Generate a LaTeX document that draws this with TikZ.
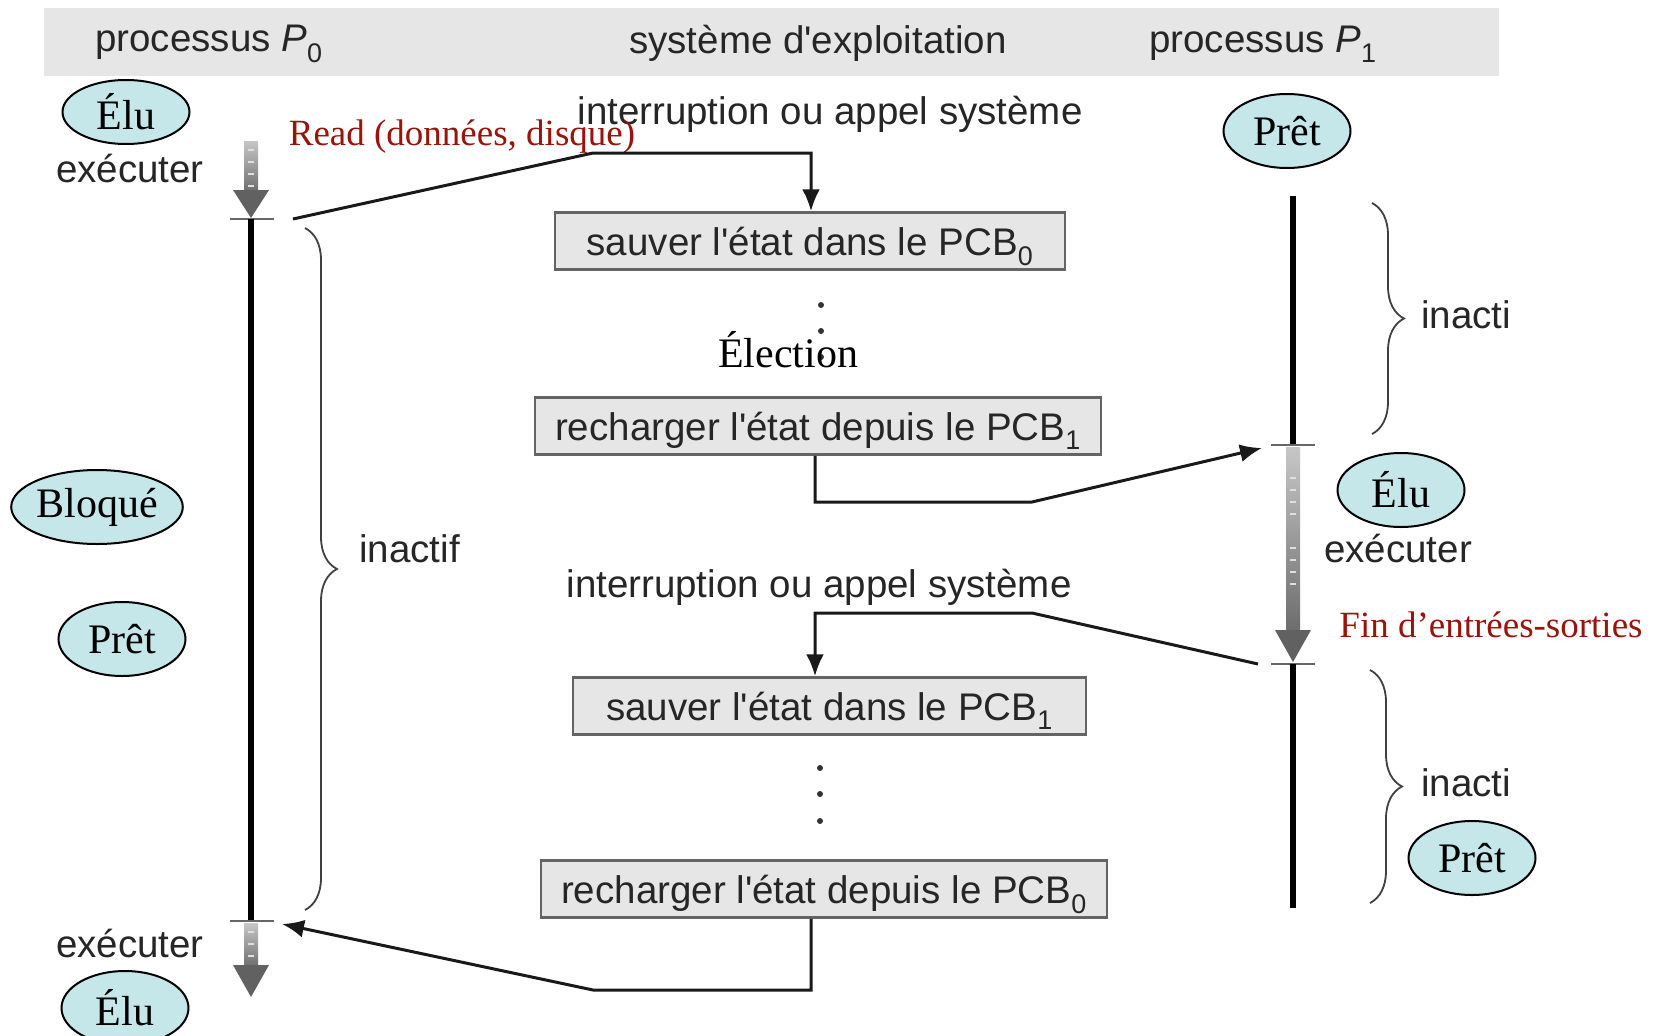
\documentclass[tikz,border=0pt]{standalone}
\usepackage{fontspec}
\setmainfont{Liberation Serif}
\setsansfont{Liberation Sans}[Ligatures=TeXOff]
\usetikzlibrary{arrows.meta,decorations.pathreplacing,shapes.geometric}
\definecolor{ellfill}{RGB}{197,231,233}
\definecolor{redlab}{RGB}{153,20,10}
\definecolor{boxfill}{RGB}{230,230,230}
\definecolor{boxdraw}{RGB}{100,100,100}
\definecolor{hdr}{RGB}{230,230,230}
\begin{document}
\begin{tikzpicture}[x=1pt,y=-1pt,
  state/.style={ellipse, draw=black, line width=2pt, fill=ellfill, inner sep=0, minimum width=127, minimum height=72, font=\fontsize{42}{48}\selectfont},
  osbox/.style={rectangle, draw=boxdraw, line width=2.5pt, fill=boxfill, inner sep=0, minimum height=57, text height=28, text depth=0, font=\sffamily\fontsize{38.5}{44}\selectfont, text=black!85},
  lab/.style={font=\sffamily\fontsize{38.5}{44}\selectfont, text=black!85, inner sep=0},
  redl/.style={font=\fontsize{37}{42}\selectfont, text=redlab, inner sep=0},
  conn/.style={line width=3pt, black!90},
  arr/.style={conn, -{Latex[length=22pt,width=18pt]}},
  tl/.style={line width=6pt, black},
  tickline/.style={line width=2pt, black!60},
  br/.style={decorate, decoration={brace, amplitude=32pt}, line width=1.8pt, black!75},
  shaftshade/.style={top color=black!22, bottom color=black!58},
  headfill/.style={fill=black!62},
  dashw/.style={line width=1.3pt, white!75!gray},
]
\useasboundingbox (0,0) rectangle (1660,1036);
\begin{scope}
\clip (0,0) rectangle (1660,1036);
% header
\fill[hdr] (44,8) rectangle (1499,76);
\node[lab] (h0) at (209,44) {processus \textit{P}\textsubscript{0}};
\node[lab] (hs) at (818,43) {système d'exploitation};
\node[lab] (h1) at (1263,44) {processus \textit{P}\textsubscript{1}};

% P0 timeline
\shade[shaftshade] (244,141) rectangle (258,193);
\fill[headfill] (233,190) -- (269,190) -- (251,218) -- cycle;
\foreach \yy in {150,162,174,186} \draw[dashw] (248,\yy) -- (254,\yy);
\draw[tickline] (230,219) -- (274,219);
\draw[tl] (251,219) -- (251,921);
\draw[tickline] (230,921) -- (274,921);
\shade[shaftshade] (244,923) rectangle (258,968);
\fill[headfill] (233,965) -- (269,965) -- (251,997) -- cycle;
\foreach \yy in {932,944,956} \draw[dashw] (248,\yy) -- (254,\yy);
\coordinate (t0a) at (293,219);
\coordinate (t0b) at (282,924);

% P1 timeline
\draw[tl] (1293,196) -- (1293,445);
\draw[tickline] (1271,445) -- (1315,445);
\shade[shaftshade] (1286,447) rectangle (1300,634);
\fill[headfill] (1275,630) -- (1311,630) -- (1293,662) -- cycle;
\foreach \yy in {478,490,502,514,548,560,572,584} \draw[dashw] (1290,\yy) -- (1296,\yy);
\draw[tickline] (1271,664) -- (1315,664);
\draw[tl] (1293,664) -- (1293,908);
\coordinate (t1a) at (1262,448);
\coordinate (t1b) at (1258,664);

% braces
\draw[br] (305,228) -- (305,910);
\draw[br] (1372,203) -- (1372,434);
\draw[br] (1370,670) -- (1370,903);
\node[lab, anchor=west] (in0) at (359,549) {inactif};
\node[lab, anchor=west] (in1) at (1421,315) {inacti};
\node[lab, anchor=west] (in2) at (1421,783) {inacti};

% OS boxes
\node[osbox, minimum width=510] (b1) at (810,241) {sauver l'état dans le PCB\textsubscript{0}};
\node[osbox, minimum width=566] (b2) at (818,426) {recharger l'état depuis le PCB\textsubscript{1}};
\node[osbox, minimum width=513] (b3) at (829.5,706) {sauver l'état dans le PCB\textsubscript{1}};
\node[osbox, minimum width=566] (b4) at (824,889) {recharger l'état depuis le PCB\textsubscript{0}};

% dots
\foreach \yy in {305,331,357} \fill[black!80] (821,\yy) circle (3);
\foreach \yy in {768,794,821} \fill[black!80] (820,\yy) circle (3);
\node[font=\fontsize{42}{48}\selectfont, inner sep=0] (el) at (788,350) {Élection};

% labels
\node[lab] (ir1) at (830,114) {interruption ou appel système};
\node[lab] (ir2) at (819,587) {interruption ou appel système};
\node[lab] (ex1) at (130,169) {exécuter};
\node[lab] (ex2) at (1398,549) {exécuter};
\node[lab] (ex3) at (130,944) {exécuter};
\node[redl] (rd) at (462,137) {Read (données, disque)};
\node[redl] (fin) at (1491,625) {Fin d’entrées-sorties};

% connectors
\coordinate (k1) at (593,153);
\coordinate (k2) at (811,153);
\draw[arr] (t0a) -- (k1) -- (k2) -- (b1.north -| k2);
\coordinate (k3) at (815,502);
\coordinate (k4) at (1032,502);
\draw[arr] (b2.south -| k3) -- (k3) -- (k4) -- (t1a);
\coordinate (k5) at (1032,613);
\coordinate (k6) at (815,613);
\draw[arr] (t1b) -- (k5) -- (k6) -- (b3.north -| k6);
\coordinate (k7) at (811,990);
\coordinate (k8) at (593,990);
\draw[arr] (b4.south -| k7) -- (k7) -- (k8) -- (t0b);

% states
\node[state, minimum height=64] (e1) at (126,112) {Élu};
\node[state, minimum height=74] (p1) at (1287,131) {Prêt};
\node[state, minimum width=167, minimum height=74] (bq) at (97,507) {Bloqué};
\node[state, minimum height=74] (p2) at (122,639) {Prêt};
\node[state, minimum height=74] (e2) at (1401,490) {Élu};
\node[state, minimum height=74] (p3) at (1472,858) {Prêt};
\node[state, minimum height=74] (e3) at (125,1008) {Élu};
\end{scope}
\end{tikzpicture}
\end{document}
